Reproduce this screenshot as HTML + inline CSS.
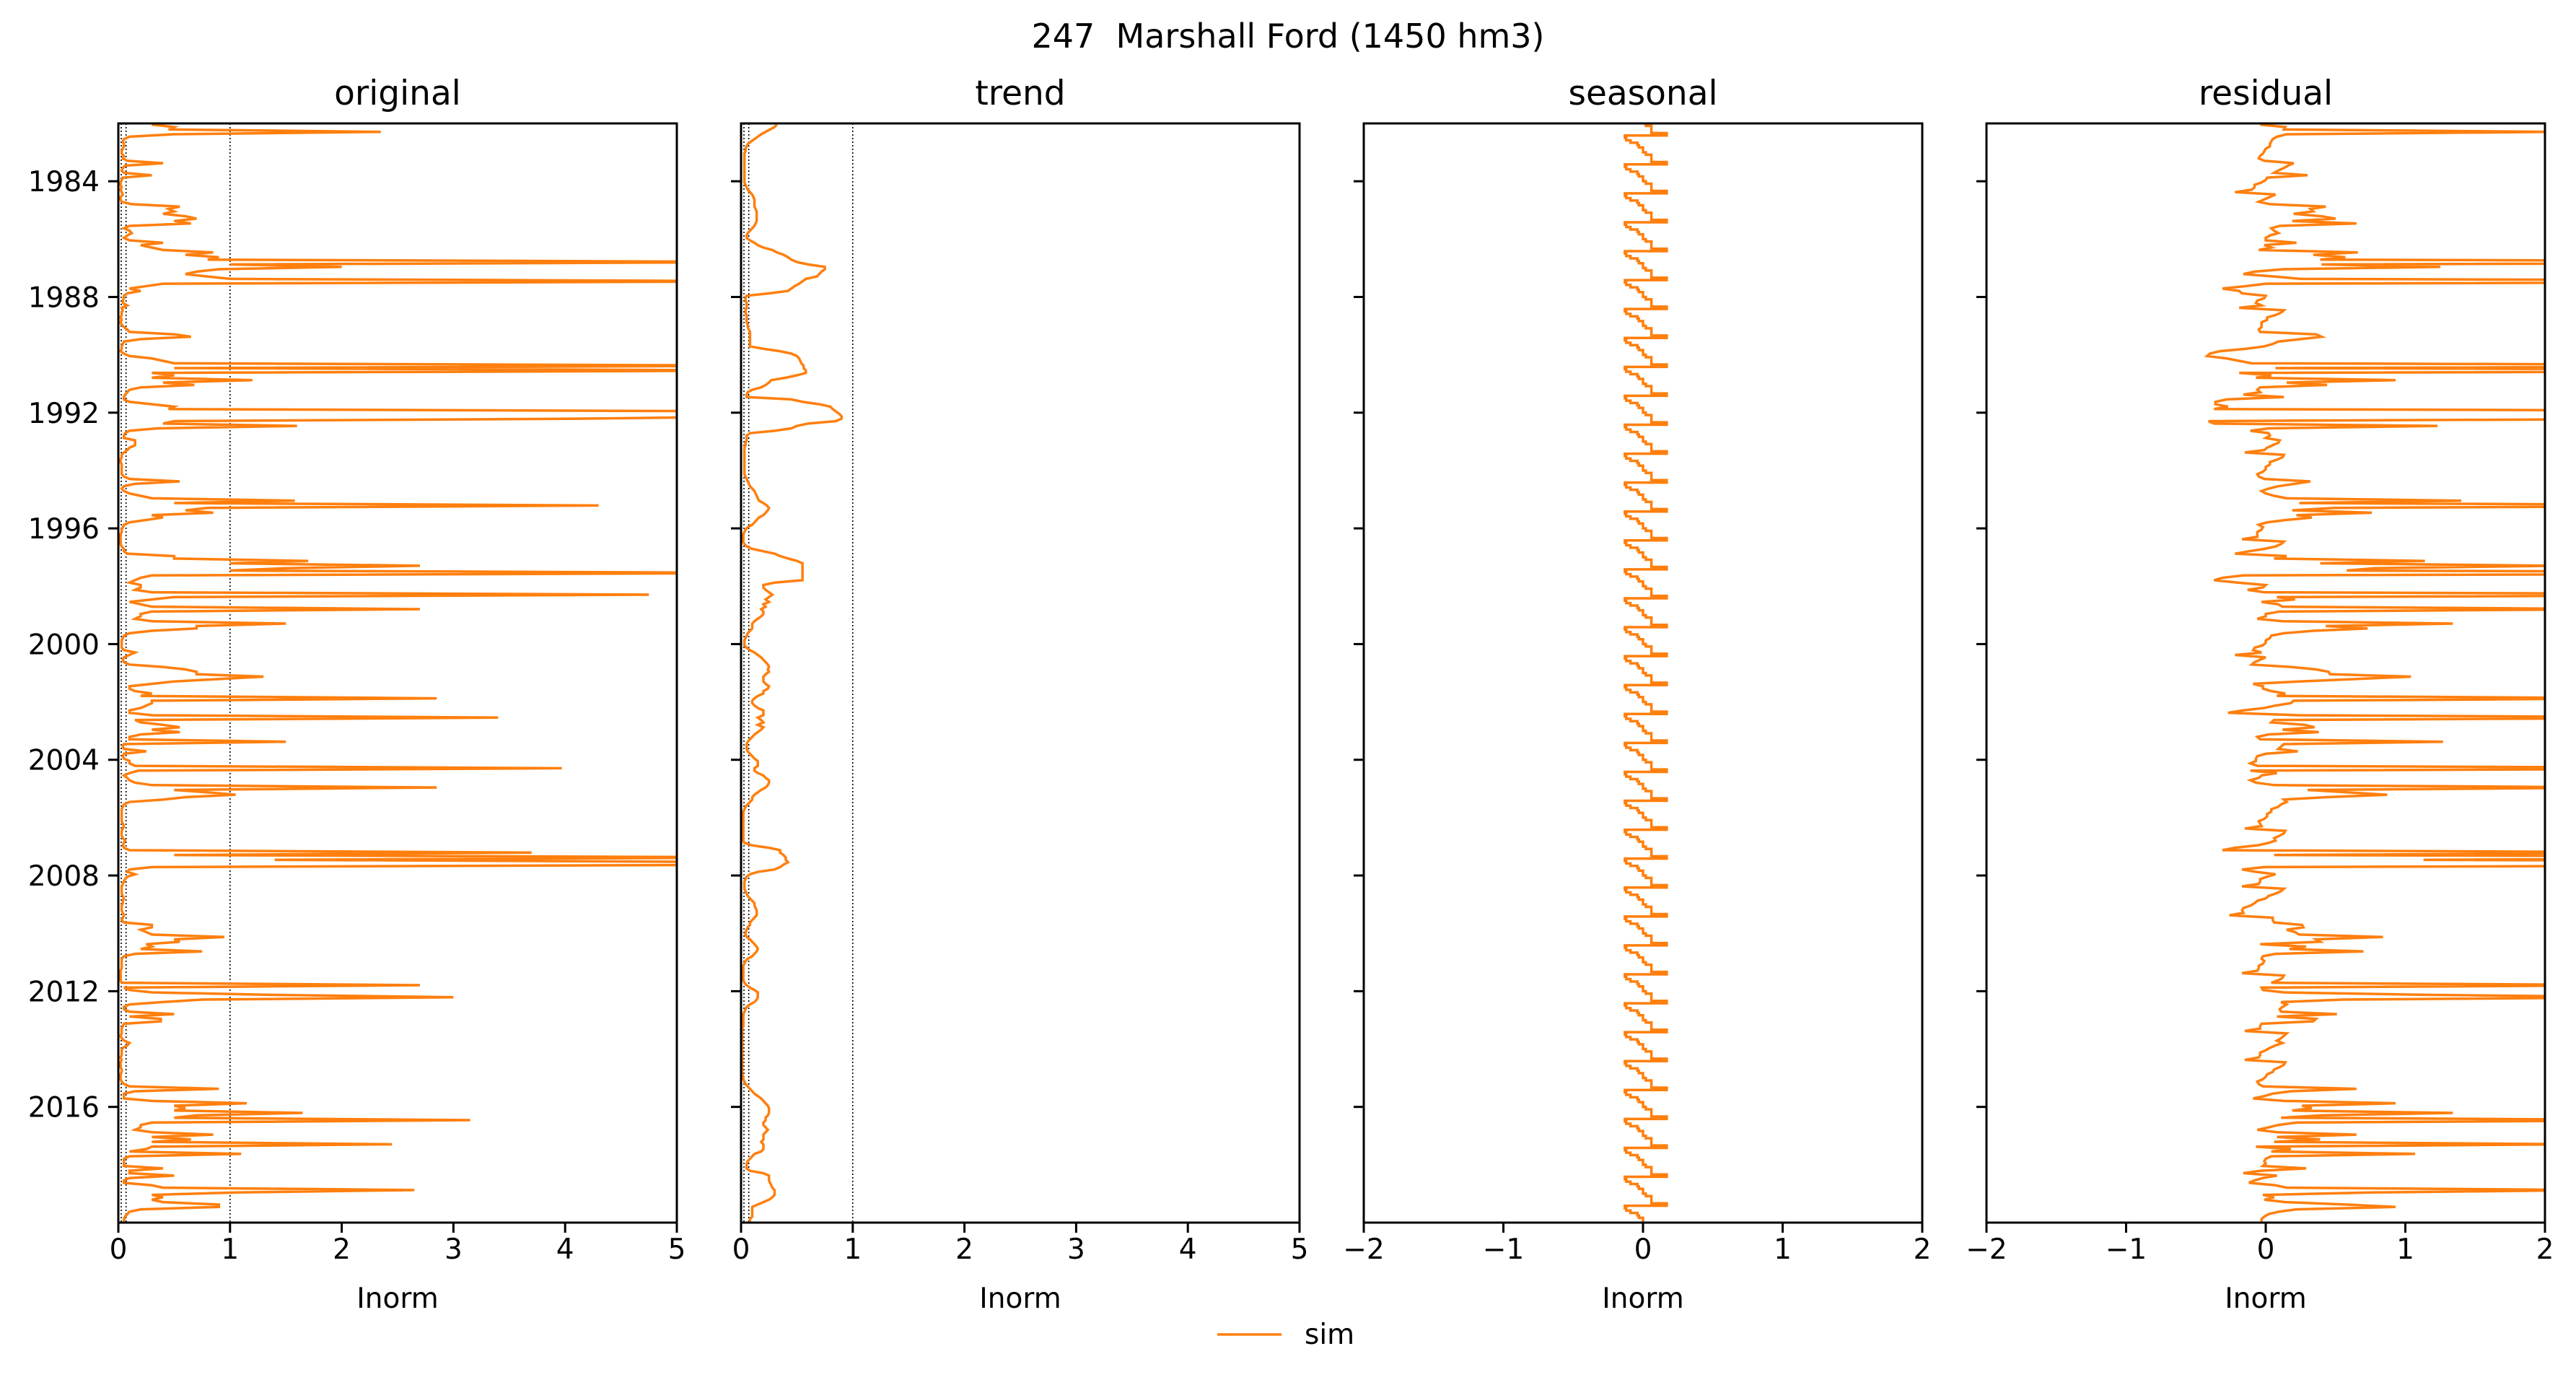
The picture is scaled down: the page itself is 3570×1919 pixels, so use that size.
<!DOCTYPE html>
<html><head><meta charset="utf-8"><title>247 Marshall Ford</title>
<style>
html,body{margin:0;padding:0;background:#fff;}
svg{display:block;font-family:"DejaVu Sans","Liberation Sans",sans-serif;}
</style></head>
<body>
<svg id="chart" width="3570" height="1919" viewBox="0 0 3570 1919" xmlns="http://www.w3.org/2000/svg">
<rect width="3570" height="1919" fill="#fff"/>
<text x="1785" y="66" font-size="46" text-anchor="middle" xml:space="preserve" style="white-space:pre">247  Marshall Ford (1450 hm3)</text>
<g id="panels"></g>
<g>
<line x1="1687" y1="1849" x2="1776" y2="1849" stroke="#ff7f0e" stroke-width="3.5"/>
<text x="1808" y="1862" font-size="39">sim</text>
</g>
</svg>
<script>
const startYear = 1982;
const yearTicks = [1984, 1988, 1992, 1996, 2000, 2004, 2008, 2012, 2016];
const ticksPos = [0, 1, 2, 3, 4, 5];
const ticksSym = [-2, -1, 0, 1, 2];
const refLines = [0.026, 0.069, 1];

const original = [
 0.3,0.5,0.45,2.35,0.5,0.1,0.05,0.04,0.05,0.05,0.04,0.03,
 0.03,0.05,0.04,0.08,0.4,0.06,0.04,0.03,0.05,0.3,0.04,0.03,
 0.02,0.02,0.03,0.02,0.03,0.04,0.02,0.02,0.03,0.12,0.55,0.45,
 0.5,0.4,0.6,0.7,0.5,0.65,0.1,0.05,0.1,0.12,0.08,0.05,
 0.1,0.4,0.2,0.3,0.4,0.85,0.6,0.9,0.8,6.0,1.0,2.0,
 0.9,0.7,0.6,0.8,1.0,6.0,0.4,0.25,0.1,0.2,0.08,0.05,
 0.05,0.04,0.04,0.08,0.03,0.04,0.03,0.03,0.02,0.03,0.02,0.03,
 0.05,0.08,0.1,0.5,0.65,0.2,0.05,0.04,0.03,0.03,0.02,0.05,
 0.1,0.3,0.4,0.5,6.0,0.5,6.0,0.3,0.5,0.3,1.2,0.4,
 0.68,0.2,0.1,0.08,0.06,0.05,0.05,0.1,0.3,0.5,0.45,6.0,
 6.0,6.0,4.1,0.5,0.4,1.6,0.35,0.1,0.06,0.05,0.05,0.15,
 0.15,0.15,0.1,0.08,0.05,0.03,0.03,0.02,0.02,0.03,0.03,0.03,
 0.03,0.03,0.05,0.1,0.55,0.15,0.05,0.03,0.05,0.1,0.2,0.3,
 1.58,0.5,4.3,0.8,0.6,0.85,0.3,0.4,0.25,0.1,0.05,0.04,
 0.03,0.03,0.02,0.02,0.02,0.02,0.02,0.03,0.05,0.05,0.08,0.5,
 0.5,1.7,1.0,2.7,1.5,1.0,6.0,0.3,0.2,0.15,0.1,0.2,
 0.2,0.15,0.3,4.75,0.5,0.3,0.1,0.2,0.3,2.7,0.3,0.2,
 0.2,0.15,0.3,1.5,0.7,0.7,0.3,0.1,0.05,0.04,0.03,0.03,
 0.03,0.03,0.05,0.15,0.1,0.05,0.04,0.05,0.1,0.4,0.6,0.7,
 0.7,1.3,0.9,0.5,0.3,0.1,0.1,0.15,0.3,0.2,2.85,0.3,
 0.3,0.25,0.2,0.1,0.1,0.3,3.4,0.15,0.2,0.4,0.55,0.3,
 0.55,0.2,0.1,0.1,1.5,0.05,0.04,0.05,0.25,0.05,0.04,0.05,
 0.1,0.1,0.15,3.97,0.18,0.1,0.05,0.08,0.1,0.15,0.3,2.85,
 0.5,0.8,1.05,0.6,0.4,0.1,0.05,0.04,0.03,0.03,0.03,0.03,
 0.03,0.03,0.04,0.05,0.04,0.03,0.03,0.03,0.04,0.06,0.05,0.04,
 0.05,0.1,3.7,0.5,6.0,1.4,6.0,6.0,0.3,0.1,0.08,0.15,
 0.08,0.06,0.05,0.04,0.03,0.03,0.03,0.03,0.04,0.05,0.04,0.04,
 0.03,0.03,0.03,0.04,0.05,0.04,0.03,0.05,0.3,0.3,0.2,0.25,
 0.3,0.95,0.5,0.55,0.25,0.3,0.2,0.75,0.15,0.05,0.03,0.03,
 0.03,0.03,0.03,0.02,0.02,0.02,0.02,0.02,0.03,2.7,0.05,0.1,
 0.3,1.35,3.0,0.75,0.4,0.1,0.05,0.05,0.1,0.5,0.1,0.38,
 0.38,0.05,0.04,0.03,0.03,0.03,0.02,0.03,0.05,0.1,0.08,0.04,
 0.03,0.03,0.03,0.02,0.03,0.02,0.02,0.02,0.03,0.03,0.02,0.02,
 0.02,0.03,0.05,0.1,0.9,0.15,0.05,0.05,0.05,0.3,1.15,0.5,
 0.6,0.5,1.65,0.7,0.5,3.15,0.3,0.2,0.2,0.15,0.3,0.85,
 0.3,0.65,0.3,2.45,0.3,0.25,0.1,1.1,0.1,0.05,0.05,0.05,
 0.05,0.4,0.1,0.1,0.5,0.1,0.05,0.05,0.3,0.4,2.65,1.05,
 0.3,0.4,0.3,0.4,0.9,0.9,0.2,0.1,0.08,0.06,0.05,0.05
];

const trend = [
 0.32,0.3,0.26,0.22,0.18,0.15,0.12,0.09,0.06,0.05,0.04,0.04,
 0.03,0.03,0.03,0.03,0.03,0.03,0.03,0.03,0.03,0.03,0.03,0.03,
 0.03,0.04,0.05,0.06,0.08,0.1,0.11,0.12,0.12,0.12,0.12,0.13,
 0.14,0.14,0.14,0.14,0.14,0.13,0.12,0.1,0.08,0.06,0.05,0.05,
 0.08,0.12,0.15,0.2,0.28,0.32,0.38,0.42,0.45,0.5,0.6,0.75,
 0.75,0.72,0.7,0.68,0.58,0.55,0.52,0.48,0.45,0.42,0.25,0.05,
 0.04,0.04,0.05,0.05,0.05,0.04,0.04,0.05,0.05,0.05,0.05,0.06,
 0.06,0.07,0.08,0.08,0.08,0.08,0.08,0.08,0.08,0.2,0.35,0.45,
 0.5,0.52,0.53,0.54,0.56,0.56,0.58,0.58,0.5,0.4,0.27,0.25,
 0.22,0.18,0.1,0.06,0.05,0.05,0.45,0.55,0.7,0.8,0.82,0.85,
 0.88,0.9,0.9,0.85,0.6,0.5,0.45,0.3,0.08,0.05,0.05,0.05,
 0.04,0.04,0.03,0.03,0.03,0.03,0.03,0.03,0.03,0.03,0.03,0.03,
 0.03,0.03,0.04,0.05,0.06,0.07,0.08,0.1,0.12,0.13,0.14,0.15,
 0.16,0.2,0.23,0.25,0.24,0.22,0.2,0.16,0.14,0.12,0.1,0.06,
 0.04,0.03,0.02,0.02,0.02,0.02,0.03,0.05,0.1,0.2,0.3,0.35,
 0.42,0.5,0.55,0.55,0.55,0.55,0.55,0.55,0.55,0.55,0.3,0.2,
 0.2,0.22,0.25,0.28,0.25,0.22,0.25,0.2,0.22,0.18,0.2,0.2,
 0.18,0.15,0.12,0.1,0.1,0.1,0.08,0.06,0.05,0.04,0.03,0.03,
 0.03,0.05,0.08,0.12,0.15,0.18,0.2,0.22,0.24,0.25,0.24,0.25,
 0.22,0.2,0.2,0.2,0.22,0.25,0.24,0.2,0.2,0.15,0.12,0.1,
 0.1,0.12,0.15,0.2,0.2,0.2,0.15,0.18,0.2,0.15,0.2,0.18,
 0.15,0.12,0.1,0.08,0.06,0.05,0.05,0.05,0.06,0.08,0.1,0.12,
 0.15,0.15,0.15,0.12,0.12,0.15,0.2,0.22,0.25,0.25,0.24,0.22,
 0.18,0.15,0.12,0.1,0.1,0.08,0.06,0.04,0.03,0.02,0.02,0.02,
 0.02,0.02,0.02,0.02,0.02,0.02,0.02,0.02,0.02,0.02,0.03,0.1,
 0.25,0.35,0.35,0.38,0.4,0.4,0.42,0.38,0.35,0.3,0.15,0.08,
 0.05,0.04,0.03,0.03,0.03,0.03,0.04,0.05,0.06,0.08,0.1,0.12,
 0.12,0.13,0.14,0.14,0.14,0.12,0.1,0.08,0.08,0.06,0.05,0.04,
 0.04,0.05,0.08,0.1,0.12,0.14,0.15,0.14,0.12,0.1,0.06,0.04,
 0.03,0.02,0.02,0.02,0.02,0.02,0.02,0.02,0.03,0.05,0.08,0.12,
 0.15,0.15,0.15,0.14,0.12,0.08,0.05,0.04,0.03,0.02,0.02,0.02,
 0.02,0.02,0.02,0.01,0.01,0.01,0.01,0.01,0.01,0.01,0.01,0.01,
 0.01,0.01,0.01,0.01,0.01,0.01,0.01,0.01,0.01,0.01,0.01,0.02,
 0.02,0.03,0.04,0.06,0.08,0.1,0.12,0.15,0.18,0.2,0.22,0.24,
 0.25,0.25,0.25,0.24,0.22,0.22,0.2,0.2,0.22,0.24,0.22,0.2,
 0.2,0.2,0.18,0.2,0.2,0.2,0.18,0.12,0.1,0.08,0.06,0.05,
 0.05,0.05,0.08,0.2,0.25,0.25,0.25,0.26,0.27,0.28,0.3,0.3,
 0.3,0.28,0.25,0.2,0.15,0.1,0.1,0.1,0.1,0.1,0.08,0.08
];

const seasonalPattern = [0.02,0.06,0.06,0.06,0.17,-0.13,-0.12,-0.09,-0.04,-0.03,0.0,0.0];

const panelTitles = ["original", "trend", "seasonal", "residual"];

// layout
const lefts = [164, 1027, 1890, 2753];
const PW = 774, TOP = 171, BOT = 1694;
const Y0 = 1982, Y1 = 2020;
const ORANGE = "#ff7f0e";
const NS = "http://www.w3.org/2000/svg";
const root = document.getElementById("panels");

function yScale(t){ return TOP + (t - Y0) / (Y1 - Y0) * (BOT - TOP); }
function makeX(left, lo, hi){ return v => left + (v - lo) / (hi - lo) * PW; }
function el(tag, attrs, parent){
  const e = document.createElementNS(NS, tag);
  for (const k in attrs) e.setAttribute(k, attrs[k]);
  parent.appendChild(e);
  return e;
}
function fmt(v){ return v < 0 ? "\u2212" + Math.abs(v) : String(v); }

const n = original.length;
const seasonal = [];
for (let i = 0; i < n; i++) seasonal.push(seasonalPattern[i % 12]);
const residual = [];
for (let i = 0; i < n; i++) residual.push(original[i] - trend[i] - seasonal[i]);
const seriesList = [original, trend, seasonal, residual];
const ranges = [[0,5],[0,5],[-2,2],[-2,2]];
const tickSets = [ticksPos, ticksPos, ticksSym, ticksSym];
const stepped = [false, false, true, false];

for (let p = 0; p < 4; p++){
  const left = lefts[p];
  const xs = makeX(left, ranges[p][0], ranges[p][1]);
  const g = el("g", {}, root);
  
  

  const cp = el("clipPath", {id: "clip" + p}, g);
  el("rect", {x: left, y: TOP, width: PW, height: BOT - TOP}, cp);

  if (p < 2){
    for (const r of refLines){
      const l = el("line", {x1: xs(r), x2: xs(r), y1: TOP, y2: BOT, stroke: "#000", "stroke-width": 1.6, "stroke-dasharray": "2,3"}, g);
      
      
    }
  }

  const s = seriesList[p];
  let d = "";
  for (let i = 0; i < n; i++){
    const t0 = Y0 + i / 12, t1 = Y0 + (i + 1) / 12;
    const x = xs(s[i]).toFixed(2);
    if (stepped[p]){
      d += (i === 0 ? "M" : "L") + x + "," + yScale(t0).toFixed(2) + "L" + x + "," + yScale(t1).toFixed(2);
    } else {
      d += (i === 0 ? "M" : "L") + x + "," + yScale(t0 + 0.5/12).toFixed(2);
    }
  }
  const path = el("path", {d: d, fill: "none", stroke: ORANGE, "stroke-width": 3.5, "stroke-linejoin": "miter", "clip-path": "url(#clip" + p + ")"}, g);
  
  

  const fr = el("rect", {x: left, y: TOP, width: PW, height: BOT - TOP, fill: "none", stroke: "#000", "stroke-width": 3}, g);
  
  

  const tt = el("text", {x: left + PW/2, y: 145, "font-size": 47, "text-anchor": "middle"}, g);
  tt.textContent = panelTitles[p];
  
  

  for (const v of tickSets[p]){
    const x = xs(v);
    const tk = el("line", {x1: x, x2: x, y1: BOT, y2: BOT + 14, stroke: "#000", "stroke-width": 3}, g);
    
    
    const tl = el("text", {x: x, y: 1744, "font-size": 39, "text-anchor": "middle"}, g);
    tl.textContent = fmt(v);
    
    
  }
  const xl = el("text", {x: left + PW/2, y: 1812, "font-size": 39, "text-anchor": "middle"}, g);
  xl.textContent = "Inorm";
  
  

  for (const yr of yearTicks){
    const y = yScale(yr);
    const tk = el("line", {x1: left - 14, x2: left, y1: y, y2: y, stroke: "#000", "stroke-width": 3}, g);
    
    
    if (p === 0){
      const tl = el("text", {x: left - 26, y: y + 14, "font-size": 39, "text-anchor": "end"}, g);
      tl.textContent = String(yr);
      
      
    }
  }
}
</script>
</body></html>
